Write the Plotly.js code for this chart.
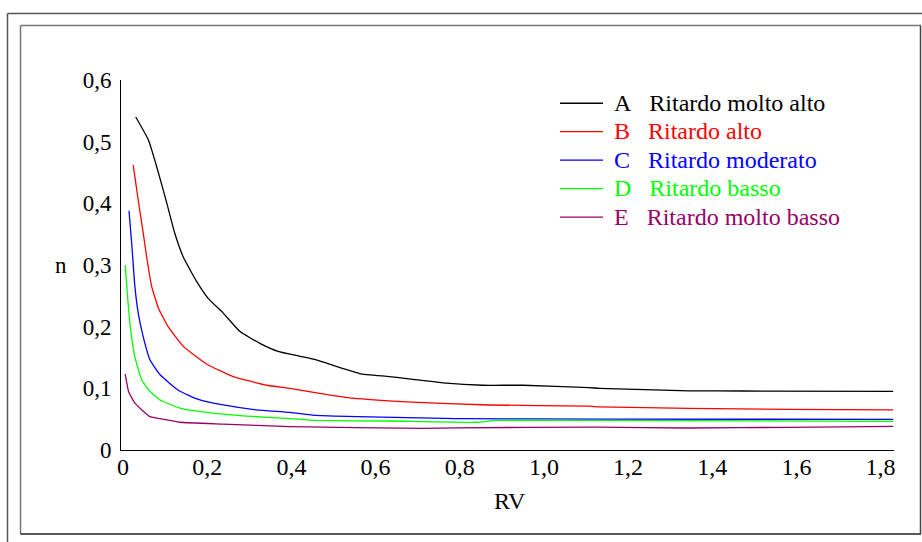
<!DOCTYPE html>
<html>
<head>
<meta charset="utf-8">
<script src="https://cdn.plot.ly/plotly-3.0.1.min.js"></script>
<style>html,body{margin:0;padding:0;background:#fff;}#chart{width:922px;height:542px;}</style>
</head>
<body>
<div id="chart"></div>
<script>
// ---- data ----
const seriesNames = ["A", "B", "C", "D", "E"];
const seriesLabels = ["Ritardo molto alto", "Ritardo alto", "Ritardo moderato", "Ritardo basso", "Ritardo molto basso"];

const xA = [0.030, 0.060, 0.080, 0.104, 0.123, 0.143, 0.175, 0.202, 0.238, 0.278, 0.325, 0.368, 0.420, 0.459, 0.562, 0.633, 0.760, 0.855, 0.950, 1.108, 1.132, 1.345, 1.472, 1.830];
const yA = [0.540, 0.503, 0.459, 0.400, 0.351, 0.313, 0.273, 0.246, 0.222, 0.192, 0.173, 0.160, 0.152, 0.146, 0.124, 0.119, 0.109, 0.105, 0.105, 0.101, 0.100, 0.096, 0.0957, 0.095];

const xB = [0.024, 0.036, 0.048, 0.056, 0.068, 0.084, 0.107, 0.143, 0.199, 0.262, 0.341, 0.396, 0.467, 0.546, 0.673, 0.871, 1.108, 1.132, 1.345, 1.582, 1.830];
const yB = [0.462, 0.405, 0.351, 0.313, 0.265, 0.230, 0.200, 0.168, 0.139, 0.119, 0.105, 0.100, 0.092, 0.084, 0.078, 0.073, 0.071, 0.070, 0.0675, 0.066, 0.065];

const xC = [0.014, 0.021, 0.028, 0.036, 0.047, 0.064, 0.088, 0.131, 0.179, 0.238, 0.317, 0.396, 0.459, 0.554, 0.792, 1.132, 1.830];
const yC = [0.388, 0.330, 0.265, 0.222, 0.186, 0.146, 0.122, 0.097, 0.082, 0.073, 0.065, 0.061, 0.056, 0.054, 0.051, 0.050, 0.0497];

const xD = [0.005, 0.010, 0.017, 0.028, 0.044, 0.064, 0.088, 0.135, 0.199, 0.293, 0.396, 0.459, 0.633, 0.839, 0.887, 1.132, 1.830];
const yD = [0.300, 0.254, 0.200, 0.151, 0.114, 0.095, 0.081, 0.068, 0.061, 0.055, 0.051, 0.048, 0.047, 0.045, 0.048, 0.048, 0.0465];

const xE = [0.005, 0.013, 0.028, 0.064, 0.104, 0.135, 0.238, 0.396, 0.712, 0.792, 1.132, 1.345, 1.582, 1.830];
const yE = [0.123, 0.095, 0.076, 0.054, 0.049, 0.045, 0.042, 0.038, 0.035, 0.036, 0.037, 0.0357, 0.0368, 0.0384];

const xTickVals = [0, 0.2, 0.4, 0.6, 0.8, 1.0, 1.2, 1.4, 1.6, 1.8];
const xTickText = ["0", "0,2", "0,4", "0,6", "0,8", "1,0", "1,2", "1,4", "1,6", "1,8"];
const yTickVals = [0, 0.1, 0.2, 0.3, 0.4, 0.5, 0.6];
const yTickText = ["0", "0,1", "0,2", "0,3", "0,4", "0,5", "0,6"];

// ---- styling ----
const colors = ["#000000", "#ff0000", "#0000ff", "#00ff00", "#990066"];
const xs = [xA, xB, xC, xD, xE];
const ys = [yA, yB, yC, yD, yE];

const FONT = "Liberation Serif, Times New Roman, serif";
const W = 922, H = 542;
const M = {l: 121, r: 28, t: 80, b: 92};
const pw = W - M.l - M.r, ph = H - M.t - M.b;
const px = p => (p - M.l) / pw;
const py = p => (H - M.b - p) / ph;

const traces = xs.map((x, i) => ({
  type: "scatter",
  mode: "lines",
  x: x,
  y: ys[i],
  line: {color: colors[i], width: 1.3, shape: "spline", smoothing: 0.4},
  name: '<span style="color:' + colors[i] + ';font-size:24px">&nbsp;' + seriesNames[i] + '&nbsp;&nbsp; ' + seriesLabels[i] + '</span>',
  hoverinfo: "x+y"
}));

function line(x0, y0, x1, y1, color) {
  return {type: "line", xref: "paper", yref: "paper",
    x0: px(x0), y0: py(y0), x1: px(x1), y1: py(y1),
    line: {color: color, width: 1.5}};
}

const shapes = [
  // outer frame
  line(7.5, 13.5, 922, 13.5, "#555555"),
  line(7.5, 13.5, 7.5, 542, "#555555"),
  // inner frame
  line(20.5, 25.5, 921, 25.5, "#777777"),
  line(20.5, 25.5, 20.5, 534, "#777777"),
  line(20.5, 534, 921, 534, "#222222"),
  line(920.5, 25.5, 920.5, 534, "#444444")
];

const layout = {
  width: W, height: H,
  margin: M,
  paper_bgcolor: "#ffffff",
  plot_bgcolor: "#ffffff",
  font: {family: FONT, size: 23, color: "#000000"},
  showlegend: true,
  legend: {
    x: px(555), y: py(84), xanchor: "left", yanchor: "top",
    bgcolor: "rgba(0,0,0,0)", borderwidth: 0,
    font: {family: FONT, size: 19.6},
    itemwidth: 43,
    tracegroupgap: 0
  },
  xaxis: {
    range: [-0.005, 1.832],
    showline: true, linecolor: "#000000", linewidth: 1,
    showgrid: false, zeroline: false,
    ticks: "", tickvals: xTickVals, ticktext: xTickText,
    ticklabelstandoff: -5,
    tickfont: {family: FONT, size: 24, color: "#000000"}
  },
  yaxis: {
    range: [0, 0.6],
    showline: true, linecolor: "#000000", linewidth: 1,
    showgrid: false, zeroline: false,
    ticks: "", tickvals: yTickVals, ticktext: yTickText,
    ticklabelstandoff: 4,
    tickfont: {family: FONT, size: 23, color: "#000000"}
  },
  shapes: shapes,
  annotations: [
    {text: "n", xref: "paper", yref: "paper", x: px(61), y: py(265), showarrow: false,
     xanchor: "center", yanchor: "middle", font: {family: FONT, size: 23, color: "#000"}},
    {text: "RV", xref: "paper", yref: "paper", x: px(510), y: py(501), showarrow: false,
     xanchor: "center", yanchor: "middle", font: {family: FONT, size: 24, color: "#000"}}
  ]
};

Plotly.newPlot("chart", traces, layout, {displayModeBar: false, staticPlot: true});
</script>
</body>
</html>
